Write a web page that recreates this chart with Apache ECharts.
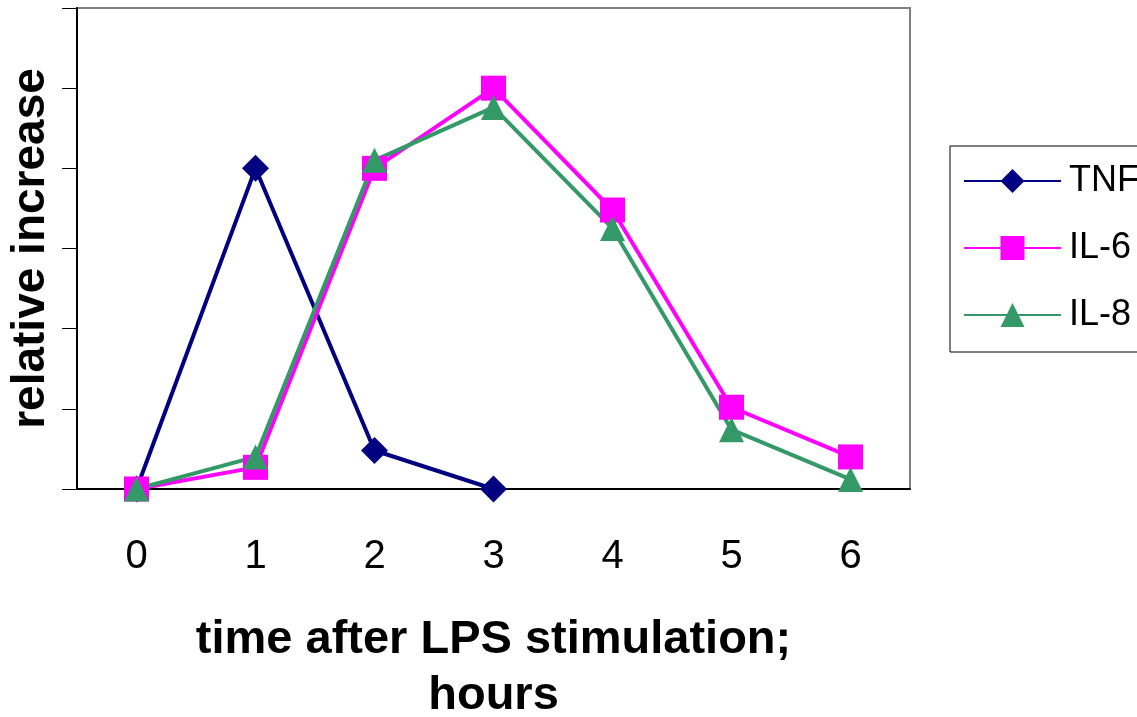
<!DOCTYPE html>
<html>
<head>
<meta charset="utf-8">
<script src="https://cdn.jsdelivr.net/npm/echarts@6/dist/echarts.min.js"></script>
<style>
  html, body { margin: 0; padding: 0; background: #fff; }
  #chart { width: 1137px; height: 717px; }
</style>
</head>
<body>
<div id="chart"></div>
<script>
// hours after LPS stimulation
var hours = ['0', '1', '2', '3', '4', '5', '6'];
// relative increase (no tick labels in the original)
var tnf = [0, 4.0, 0.48, 0, null, null, null];
var il6 = [0, 0.27, 4.0, 5.0, 3.48, 1.02, 0.4];
var il8 = [0, 0.4, 4.1, 4.76, 3.25, 0.74, 0.12];

var font = 'Liberation Sans, Arial, sans-serif';
var chart = echarts.init(document.getElementById('chart'));

chart.setOption({
  animation: false,
  textStyle: { fontFamily: font },
  grid: {
    left: 77, top: 8, right: 227, bottom: 228,
    containLabel: false,
    outerBoundsMode: 'none',
    show: true, borderColor: '#808080', borderWidth: 2
  },
  legend: {
    orient: 'vertical',
    left: 950, top: 146,
    padding: [17, 13, 19, 13],
    itemWidth: 97, itemHeight: 30, itemGap: 31,
    borderColor: '#000', borderWidth: 1,
    textStyle: { fontSize: 36, color: '#000', fontFamily: font, padding: [0, 0, 0, 3] },
    data: ['TNF', 'IL-6', 'IL-8']
  },
  xAxis: {
    type: 'category',
    data: hours,
    boundaryGap: true,
    axisLine: { lineStyle: { color: '#000', width: 2 } },
    axisTick: { show: false },
    axisLabel: { fontSize: 40, color: '#000', margin: 48, fontFamily: font },
    name: 'time after LPS stimulation;\nhours',
    nameLocation: 'middle',
    nameGap: 123,
    nameTextStyle: { fontSize: 47, fontWeight: 'bold', color: '#000', lineHeight: 56, fontFamily: font }
  },
  yAxis: {
    type: 'value',
    min: 0, max: 6, interval: 1,
    axisLine: { show: true, lineStyle: { color: '#000', width: 2 } },
    axisTick: { show: true, inside: false, length: 15, lineStyle: { color: '#000', width: 1 } },
    axisLabel: { show: false },
    splitLine: { show: false },
    name: 'relative increase',
    nameLocation: 'middle',
    nameGap: 23,
    nameTextStyle: { fontSize: 46, fontWeight: 'bold', color: '#000', fontFamily: font }
  },
  series: [
    {
      name: 'TNF', type: 'line', data: tnf,
      color: '#000080',
      symbol: 'diamond', symbolSize: 27, showAllSymbol: true,
      lineStyle: { width: 4, color: '#000080' },
      itemStyle: { color: '#000080' }
    },
    {
      name: 'IL-6', type: 'line', data: il6,
      color: '#FF00FF',
      symbol: 'rect', symbolSize: 25, showAllSymbol: true,
      lineStyle: { width: 4, color: '#FF00FF' },
      itemStyle: { color: '#FF00FF' }
    },
    {
      name: 'IL-8', type: 'line', data: il8,
      color: '#339966',
      symbol: 'triangle', symbolSize: 25, showAllSymbol: true,
      lineStyle: { width: 4, color: '#339966' },
      itemStyle: { color: '#339966' }
    }
  ]
});
</script>
</body>
</html>
